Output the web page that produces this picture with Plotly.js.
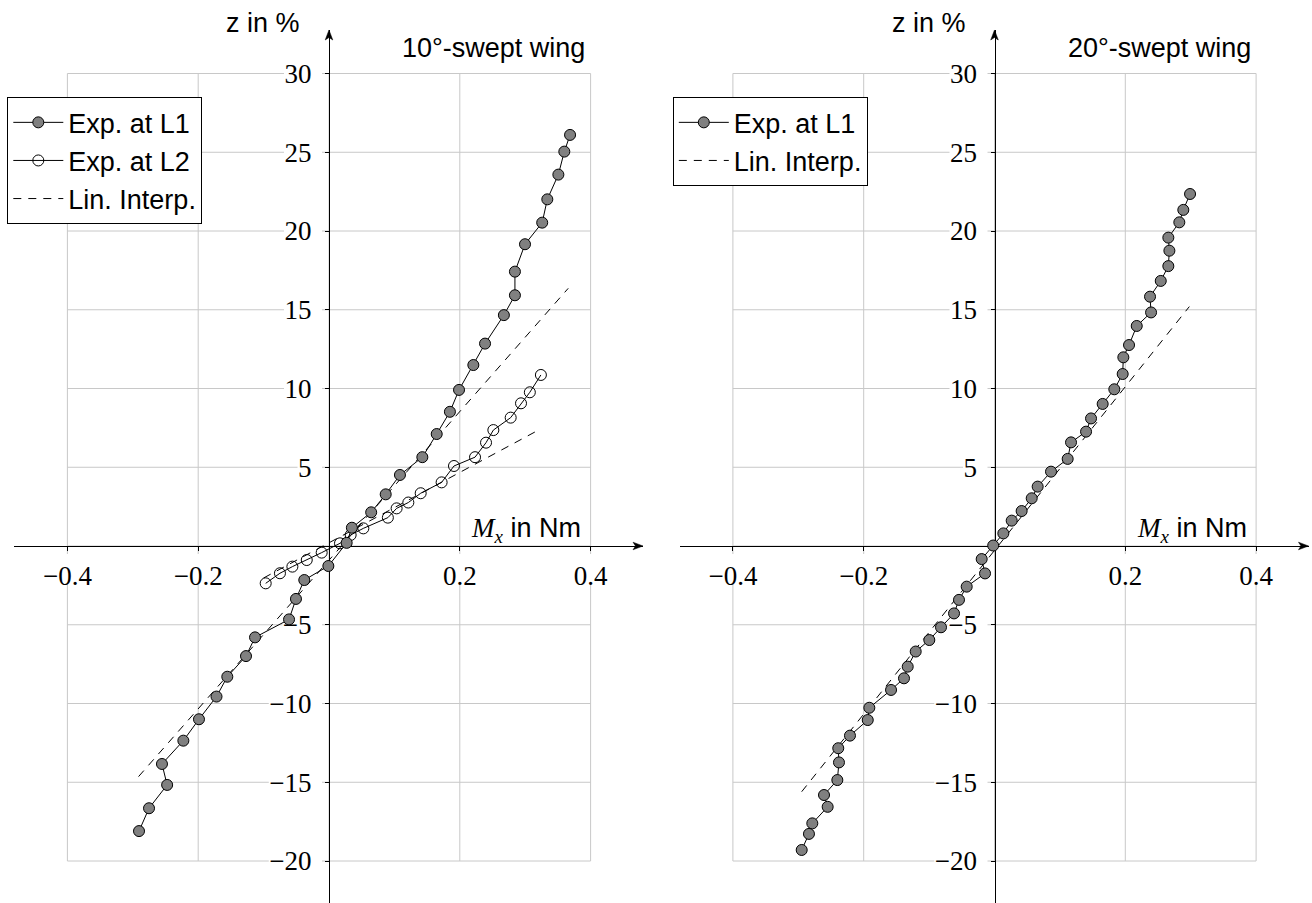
<!DOCTYPE html>
<html>
<head>
<meta charset="utf-8">
<script src="https://cdn.plot.ly/plotly-3.0.1.min.js"></script>
<style>
  html, body { margin: 0; padding: 0; background: #fff; }
  #chart { width: 1312px; height: 903px; }
</style>
</head>
<body>
<div id="chart"></div>
<script>
// Bending moment M_x (Nm) vs. relative deflection z (%)

// 10°-swept wing, location L1
const sw10_L1_mx = [-0.2905, -0.2752, -0.2475, -0.2554, -0.2227, -0.1988, -0.1720, -0.1555, -0.1269, -0.1131,
                    -0.0611, -0.0505, -0.0378, -0.0010, 0.0270, 0.0350, 0.0645, 0.0867, 0.1085, 0.1427,
                    0.1647, 0.1849, 0.1988, 0.2207, 0.2386, 0.2674, 0.2843, 0.2843, 0.2997, 0.3260,
                    0.3338, 0.3507, 0.3598, 0.3686];
const sw10_L1_z  = [-18.10, -16.65, -15.17, -13.84, -12.36, -11.00, -9.56, -8.30, -6.99, -5.80,
                    -4.66, -3.36, -2.16, -1.27, 0.20, 1.16, 2.14, 3.28, 4.51, 5.64,
                    7.11, 8.52, 9.91, 11.49, 12.85, 14.66, 15.92, 17.42, 19.16, 20.53,
                    22.01, 23.58, 25.04, 26.10];

// 10°-swept wing, location L2
const sw10_L2_mx = [-0.0968, -0.0750, -0.0560, -0.0340, -0.0112, 0.0168, 0.0331, 0.0525, 0.0900, 0.1034,
                    0.1213, 0.1402, 0.1722, 0.1911, 0.2233, 0.2401, 0.2513, 0.2778, 0.2936, 0.3071, 0.3240];
const sw10_L2_z  = [-2.37, -1.73, -1.31, -0.89, -0.42, 0.17, 0.70, 1.12, 1.80, 2.39,
                    2.76, 3.35, 4.04, 5.08, 5.64, 6.56, 7.36, 8.15, 9.06, 9.76, 10.86];

// 10°-swept wing, linear interpolations (L1 segment, gap, L2 segment)
const sw10_fit_mx = [-0.2912, 0.3658, null, -0.1000, 0.3176];
const sw10_fit_z  = [-14.64, 16.36, null, -2.03, 7.30];

// 20°-swept wing, location L1
const sw20_L1_mx = [-0.2948, -0.2837, -0.2786, -0.2551, -0.2607, -0.2403, -0.2378, -0.2389, -0.2210, -0.1938,
                    -0.1914, -0.1582, -0.1384, -0.1327, -0.1205, -0.0997, -0.0818, -0.0619, -0.0543, -0.0425,
                    -0.0145, -0.0196, -0.0020, 0.0135, 0.0263, 0.0415, 0.0569, 0.0660, 0.0864, 0.1119,
                    0.1170, 0.1400, 0.1476, 0.1654, 0.1832, 0.1960, 0.1970, 0.2057, 0.2175, 0.2394,
                    0.2378, 0.2542, 0.2658, 0.2674, 0.2658, 0.2826, 0.2887, 0.2990];
const sw20_L1_z  = [-19.30, -18.28, -17.61, -16.56, -15.81, -14.86, -13.74, -12.84, -12.04, -11.05,
                    -10.27, -9.14, -8.40, -7.66, -6.70, -5.97, -5.16, -4.28, -3.42, -2.58,
                    -1.74, -0.83, 0.03, 0.80, 1.61, 2.22, 3.03, 3.77, 4.72, 5.53,
                    6.58, 7.26, 8.10, 9.02, 9.95, 10.92, 11.98, 12.76, 13.97, 14.83,
                    15.83, 16.83, 17.77, 18.75, 19.58, 20.55, 21.34, 22.35];

// 20°-swept wing, linear interpolation
const sw20_fit_mx = [-0.2948, 0.2979];
const sw20_fit_z  = [-15.60, 15.20];

// Ticks and grid
const xTickVals = [-0.4, -0.2, 0.2, 0.4];
const xTickText = ['\u22120.4', '\u22120.2', '0.2', '0.4'];
const yTickVals = [-20, -15, -10, -5, 5, 10, 15, 20, 25, 30];
const yTickText = ['\u221220', '\u221215', '\u221210', '\u22125', '5', '10', '15', '20', '25', '30'];
const xGridVals = [-0.4, -0.2, 0, 0.2, 0.4];
const yGridVals = [-20, -15, -10, -5, 0, 5, 10, 15, 20, 25, 30];

// Panel titles and legend texts
const panelTitles = ['10\u00b0-swept wing', '20\u00b0-swept wing'];
const seriesNames = ['Exp. at L1', 'Exp. at L2', 'Lin. Interp.'];

// ---- geometry (pixels) ----
const W = 1312, H = 903;
const PXU = 654;            // px per Nm
const PYU = 15.75;          // px per %
const originX = [329, 994.5];
const originY = 546;
const axLeft = 315, axRight = 314;   // axis extent around origin
const axTop = 30;                    // y pixel of the upward arrow tip

const xRange = [-axLeft / PXU, axRight / PXU];
const yRange = [(originY - H) / PYU, (originY - axTop) / PYU];
const yDomain = [0, (H - axTop) / H];
const xAxisPos = (H - originY) / H;

const px2paperX = p => p / W;
const px2paperY = p => (H - p) / H;

const serif = 'Liberation Serif, Times New Roman, serif';
const sans = 'Liberation Sans, Arial, Helvetica, sans-serif';
const gridColor = '#c8c8c8';
const FS = 27;

function xAxis(i) {
  return {
    domain: [(originX[i] - axLeft) / W, (originX[i] + axRight) / W],
    range: xRange, anchor: 'free', position: xAxisPos,
    showgrid: false, zeroline: false,
    showline: true, linecolor: '#000', linewidth: 1,
    ticks: 'outside', ticklen: 4, tickwidth: 1, tickcolor: '#000',
    tickmode: 'array', tickvals: xTickVals, ticktext: xTickText,
    tickfont: { family: serif, size: FS, color: '#000' },
    ticklabelstandoff: 2,
    layer: 'below traces', fixedrange: true, automargin: false
  };
}
function yAxis(i) {
  return {
    domain: yDomain, range: yRange, anchor: 'free', position: originX[i] / W,
    showgrid: false, zeroline: false,
    showline: true, linecolor: '#000', linewidth: 1,
    ticks: 'outside', ticklen: 4, tickwidth: 1, tickcolor: '#000',
    tickmode: 'array', tickvals: yTickVals, ticktext: yTickText,
    tickfont: { family: serif, size: FS, color: '#000' },
    ticklabelstandoff: 8,
    layer: 'below traces', fixedrange: true, automargin: false
  };
}

// approximate label width in px for the serif tick font
function labelWidth(s) {
  let w = 0;
  for (const c of s) w += (c === '\u2212') ? 0.564 * FS : (c === '.' ? 0.25 * FS : 0.5 * FS);
  return w;
}

// arrow tip as a small filled path in paper units, pointing along (dx, dy) in pixels
function arrowPath(tipX, tipY, dx, dy) {
  const len = 10, half = 3.8, notch = 2.5;
  const nx = -dy, ny = dx;
  const pts = [
    [tipX, tipY],
    [tipX - dx * len + nx * half, tipY - dy * len + ny * half],
    [tipX - dx * (len - notch), tipY - dy * (len - notch)],
    [tipX - dx * len - nx * half, tipY - dy * len - ny * half]
  ];
  return 'M' + pts.map(p => px2paperX(p[0]).toFixed(5) + ',' + px2paperY(p[1]).toFixed(5)).join('L') + 'Z';
}

const shapes = [];
['', '2'].forEach((sfx, i) => {
  const xr = 'x' + sfx, yr = 'y' + sfx;
  xGridVals.forEach(v => shapes.push({ type: 'line', xref: xr, yref: yr, x0: v, x1: v, y0: -20, y1: 30,
    layer: 'below', line: { color: gridColor, width: 1 } }));
  yGridVals.forEach(v => shapes.push({ type: 'line', xref: xr, yref: yr, x0: -0.4, x1: 0.4, y0: v, y1: v,
    layer: 'below', line: { color: gridColor, width: 1 } }));
  // white boxes under tick labels
  xTickText.forEach((t, k) => {
    const w = labelWidth(t);
    shapes.push({ type: 'rect', xref: xr, yref: yr, xsizemode: 'pixel', ysizemode: 'pixel',
      xanchor: xTickVals[k], yanchor: 0, x0: -w / 2 - 3, x1: w / 2 + 3, y0: -8, y1: -38,
      layer: 'below', fillcolor: '#fff', line: { width: 0 } });
  });
  yTickText.forEach((t, k) => {
    const w = labelWidth(t);
    shapes.push({ type: 'rect', xref: xr, yref: yr, xsizemode: 'pixel', ysizemode: 'pixel',
      xanchor: 0, yanchor: yTickVals[k], x0: -w - 18, x1: -7, y0: -12, y1: 12,
      layer: 'below', fillcolor: '#fff', line: { width: 0 } });
  });
  // arrow tips on the axis lines
  const ox = originX[i];
  shapes.push({ type: 'path', xref: 'paper', yref: 'paper', layer: 'above',
    path: arrowPath(ox + axRight, originY, 1, 0), fillcolor: '#000', line: { color: '#000', width: 0.5 } });
  shapes.push({ type: 'path', xref: 'paper', yref: 'paper', layer: 'above',
    path: arrowPath(ox, axTop, 0, -1), fillcolor: '#000', line: { color: '#000', width: 0.5 } });
});

const annotations = [];
[0, 1].forEach(i => {
  const ox = originX[i];
  const base = { showarrow: false, font: { family: sans, size: FS, color: '#000' } };
  annotations.push(Object.assign({}, base, { xref: 'paper', yref: 'paper', x: px2paperX(ox - 27), y: px2paperY(23),
    xanchor: 'right', yanchor: 'middle', text: 'z in %' }));
  annotations.push(Object.assign({}, base, { xref: 'paper', yref: 'paper', x: px2paperX(ox + 258), y: px2paperY(48),
    xanchor: 'right', yanchor: 'middle', text: panelTitles[i] }));
  annotations.push(Object.assign({}, base, { xref: 'paper', yref: 'paper', x: px2paperX(ox + 254), y: px2paperY(530),
    xanchor: 'right', yanchor: 'middle',
    text: '<span style="font-family:Liberation Serif"><i>M</i><sub><i>x</i></sub></span> in Nm' }));
});

const filledMarker = { symbol: 'circle', size: 11, color: '#808080', line: { color: '#000', width: 1 } };
const openMarker = { symbol: 'circle-open', size: 11, color: '#000', line: { width: 1 } };
const solid = { color: '#000', width: 1 };
const dashed = { color: '#000', width: 1, dash: '8px,7px' };

const traces = [
  { x: sw10_fit_mx, y: sw10_fit_z, xaxis: 'x', yaxis: 'y', mode: 'lines', line: dashed,
    name: seriesNames[2], legend: 'legend', legendrank: 3, connectgaps: false },
  { x: sw10_L2_mx, y: sw10_L2_z, xaxis: 'x', yaxis: 'y', mode: 'lines+markers', line: solid, marker: openMarker,
    name: seriesNames[1], legend: 'legend', legendrank: 2 },
  { x: sw10_L1_mx, y: sw10_L1_z, xaxis: 'x', yaxis: 'y', mode: 'lines+markers', line: solid, marker: filledMarker,
    name: seriesNames[0], legend: 'legend', legendrank: 1 },
  { x: sw20_fit_mx, y: sw20_fit_z, xaxis: 'x2', yaxis: 'y2', mode: 'lines', line: dashed,
    name: seriesNames[2], legend: 'legend2', legendrank: 3 },
  { x: sw20_L1_mx, y: sw20_L1_z, xaxis: 'x2', yaxis: 'y2', mode: 'lines+markers', line: solid, marker: filledMarker,
    name: seriesNames[0], legend: 'legend2', legendrank: 1 }
];

function legendAt(i) {
  return {
    x: px2paperX(originX[i] - 321.7), y: px2paperY(97.3), xanchor: 'left', yanchor: 'top',
    bgcolor: '#fff', bordercolor: '#000', borderwidth: 1,
    font: { family: sans, size: FS, color: '#000' },
    itemwidth: 50, tracegroupgap: 0, traceorder: 'normal'
  };
}

const layout = {
  width: W, height: H,
  margin: { l: 0, r: 0, t: 0, b: 0, pad: 0 },
  paper_bgcolor: '#fff', plot_bgcolor: 'rgba(0,0,0,0)',
  showlegend: true,
  xaxis: xAxis(0), yaxis: yAxis(0),
  xaxis2: xAxis(1), yaxis2: yAxis(1),
  legend: legendAt(0), legend2: legendAt(1),
  shapes: shapes, annotations: annotations,
  hovermode: false
};

Plotly.newPlot('chart', traces, layout, { staticPlot: true, displayModeBar: false });
</script>
</body>
</html>
